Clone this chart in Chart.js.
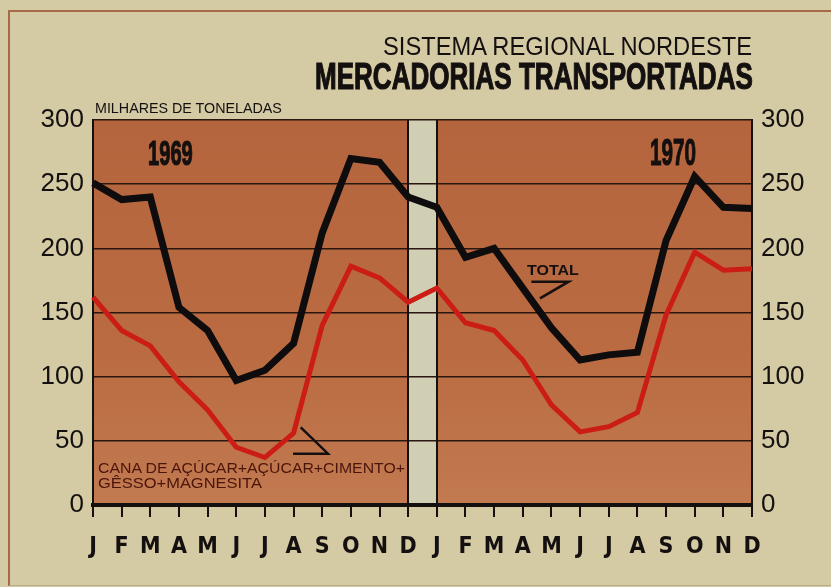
<!DOCTYPE html>
<html>
<head>
<meta charset="utf-8">
<script src="https://cdn.jsdelivr.net/npm/chart.js@4.4.1/dist/chart.umd.min.js"></script>
<style>
  body { margin: 0; background: #d4caa4; }
  #wrap { position: relative; width: 831px; height: 587px; overflow: hidden; }
  #frame { position: absolute; left: 8px; top: 10px; width: 840px; height: 573px; border-left: 2px solid #a7694a; border-top: 2px solid #a7694a; border-bottom: 1px solid #b9ad8c; }
  canvas { position: absolute; left: 0; top: 0; }
  .lbl { position: absolute; white-space: nowrap; line-height: 1; transform-origin: 0 0; color: #151010; font-family: 'Liberation Sans', Arial, sans-serif; }
  .heavy { -webkit-text-stroke: 1.2px #151010; }
</style>
</head>
<body>
<div id="wrap">
  <div id="frame"></div>
  <canvas id="chart" width="831" height="587"></canvas>
  <div class="lbl" data-box="383,36,369,19" data-weight="400">SISTEMA REGIONAL NORDESTE</div>
  <div class="lbl heavy" data-box="315,63,438,27" data-weight="700">MERCADORIAS TRANSPORTADAS</div>
  <div class="lbl" data-box="95,102,187,11" data-weight="400">MILHARES DE TONELADAS</div>
  <div class="lbl heavy" data-box="148,141,45,25" data-weight="700">1969</div>
  <div class="lbl heavy" data-box="650,139,46,27" data-weight="700">1970</div>
  <div class="lbl" data-box="527,264,52,11" data-weight="700">TOTAL</div>
  <div class="lbl" data-box="98,462,307,11" data-weight="400" style="color:#4a150a">CANA DE AÇÚCAR+AÇÚCAR+CIMENTO+</div>
  <div class="lbl" data-box="98,477,164,11" data-weight="400" style="color:#4a150a">GÊSSO+MAGNESITA</div>
</div>
<script>
// Mercadorias transportadas - Sistema Regional Nordeste, 1969-1970 (milhares de toneladas)

const months = ['J', 'F', 'M', 'A', 'M', 'J', 'J', 'A', 'S', 'O', 'N', 'D',
                'J', 'F', 'M', 'A', 'M', 'J', 'J', 'A', 'S', 'O', 'N', 'D'];
const totalValues = [251, 238, 240, 154, 136, 97, 105, 126, 212, 270, 267, 240,
                     232, 193, 200, 169, 138, 113, 117, 119, 206, 256, 232, 231];
const cargoValues = [162, 136, 124, 96, 74, 45, 37, 56, 140, 186, 177, 158,
                     169, 142, 136, 113, 78, 57, 61, 72, 148, 197, 183, 184];
const yTicks = [0, 50, 100, 150, 200, 250, 300];

const stripColor = '#d0cfb3';
const ink = '#141010';

// fit each html label into its box (condensed look like the print)
document.querySelectorAll('.lbl').forEach(el => {
  const [x, capTop, w, capH] = el.dataset.box.split(',').map(Number);
  const size = capH / 0.716;
  el.style.fontSize = size + 'px';
  el.style.fontWeight = el.dataset.weight;
  el.style.left = x + 'px';
  el.style.top = (capTop - 0.13 * size) + 'px';
  el.style.transform = 'scaleX(' + (w / el.offsetWidth) + ')';
});

const plotBackground = {
  id: 'plotBackground',
  beforeDraw(chart) {
    const { ctx, chartArea: a, scales: { x } } = chart;
    ctx.save();
    const grad = ctx.createLinearGradient(0, a.top, 0, a.bottom);
    grad.addColorStop(0, '#b5653d');
    grad.addColorStop(0.6, '#ba6b42');
    grad.addColorStop(1, '#c27a50');
    ctx.fillStyle = grad;
    ctx.fillRect(a.left, a.top, a.right - a.left, a.bottom - a.top);
    // pale gap between the two years
    const x1 = x.getPixelForValue(11);
    const x2 = x.getPixelForValue(12);
    ctx.fillStyle = stripColor;
    ctx.fillRect(x1, a.top, x2 - x1, a.bottom - a.top);
    ctx.restore();
  },
  beforeDatasetsDraw(chart) {
    const { ctx, chartArea: a, scales: { x } } = chart;
    ctx.save();
    ctx.strokeStyle = ink;
    ctx.lineWidth = 2;
    [11, 12].forEach(i => {
      const px = Math.round(x.getPixelForValue(i));
      ctx.beginPath();
      ctx.moveTo(px, a.top);
      ctx.lineTo(px, a.bottom);
      ctx.stroke();
    });
    ctx.restore();
  },
  afterDatasetsDraw(chart) {
    const { ctx, scales: { x, y } } = chart;
    const pt = (i, v) => [x.getPixelForValue(i), y.getPixelForValue(v)];
    const path = (pts, color) => {
      ctx.beginPath();
      pts.forEach((p, k) => { const [px, py] = pt(p[0], p[1]); k ? ctx.lineTo(px, py) : ctx.moveTo(px, py); });
      ctx.strokeStyle = color;
      ctx.lineWidth = 2.5;
      ctx.stroke();
    };
    ctx.save();
    // pointer under TOTAL
    path([[15.3, 174], [16.6, 174], [15.6, 161]], ink);
    // pointer to the red series
    path([[7.25, 60.5], [8.2, 40], [6.98, 40]], ink);
    ctx.restore();
  }
};

const tickFont = { family: "'Liberation Sans', Arial, sans-serif", size: 26 };

new Chart(document.getElementById('chart'), {
  type: 'line',
  data: {
    labels: months,
    datasets: [
      { label: 'Cana de açúcar + açúcar + cimento + gêsso + magnesita', data: cargoValues, borderColor: '#cc1c16', borderWidth: 5 },
      { label: 'Total', data: totalValues, borderColor: '#0e0c0c', borderWidth: 7 }
    ]
  },
  options: {
    responsive: false,
    animation: false,
    layout: { padding: { top: 120, left: 0, right: 0, bottom: 0 } },
    plugins: { legend: { display: false }, tooltip: { enabled: false } },
    elements: { point: { radius: 0 }, line: { tension: 0, borderJoinStyle: 'miter', borderCapStyle: 'butt' } },
    scales: {
      x: {
        offset: false,
        grid: { drawOnChartArea: false, color: ink, lineWidth: 2, tickLength: 12 },
        border: { color: ink, width: 4 },
        ticks: {
          autoSkip: false, maxRotation: 0, padding: 16, color: ink,
          font: { family: "'Liberation Sans Narrow', 'DejaVu Sans Condensed', 'Liberation Sans', sans-serif", size: 23, weight: 'bold' }
        },
        afterFit(scale) { scale.height = 82; }
      },
      y: {
        position: 'left', min: 0, max: 300,
        afterBuildTicks(scale) { scale.ticks = yTicks.map(v => ({ value: v })); },
        grid: { color: '#2a1710', lineWidth: 1.5, drawTicks: false },
        border: { color: ink, width: 2 },
        ticks: { padding: 9, color: ink, font: tickFont },
        afterFit(scale) { scale.width = 93; }
      },
      y1: {
        position: 'right', min: 0, max: 300,
        afterBuildTicks(scale) { scale.ticks = yTicks.map(v => ({ value: v })); },
        grid: { display: false, drawTicks: false },
        border: { color: ink, width: 2 },
        ticks: { padding: 9, color: ink, font: tickFont },
        afterFit(scale) { scale.width = 79; }
      }
    }
  },
  plugins: [plotBackground]
});
</script>
</body>
</html>
